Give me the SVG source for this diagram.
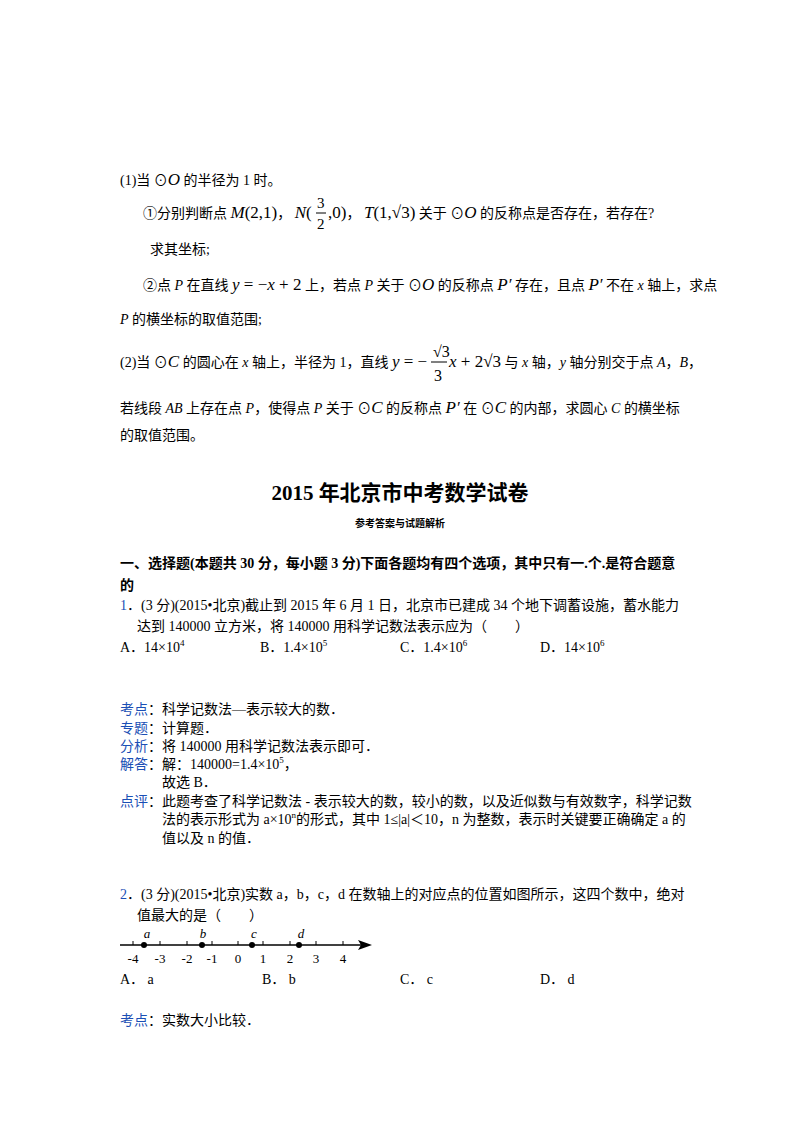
<svg xmlns="http://www.w3.org/2000/svg" width="800" height="1132" viewBox="0 0 800 1132" font-size="14">
<style>
text{font-family:"Liberation Serif","Noto Sans CJK SC",serif;fill:#000}
.i{font-style:italic}
.b{fill:#1a4fb5}
.h{font-weight:bold}
</style>
<rect width="800" height="1132" fill="#fff"/>
<text x="120" y="185">(1)当 ⊙<tspan class="i" font-size="17">O</tspan> 的半径为 1 时。</text>
<text x="143" y="218">①分别判断点 <tspan class="i" font-size="17">M</tspan><tspan font-size="17">(2,1)</tspan>， <tspan class="i" font-size="17">N</tspan><tspan font-size="17">(</tspan></text>
<text x="317" y="208" font-size="15">3</text><line x1="316" y1="213" x2="326" y2="213" stroke="#000"/><text x="317" y="229" font-size="15">2</text>
<text x="328" y="218"><tspan font-size="17">,0)</tspan>， <tspan class="i" font-size="17">T</tspan><tspan font-size="17">(1,√3)</tspan> 关于 ⊙<tspan class="i" font-size="17">O</tspan> 的反称点是否存在，若存在?</text>
<text x="150" y="254">求其坐标;</text>
<text x="143" y="290">②点 <tspan class="i">P</tspan> 在直线 <tspan class="i" font-size="17">y</tspan><tspan font-size="17"> = −</tspan><tspan class="i" font-size="17">x</tspan><tspan font-size="17"> + 2</tspan> 上，若点 <tspan class="i">P</tspan> 关于 ⊙<tspan class="i" font-size="17">O</tspan> 的反称点 <tspan class="i" font-size="17">P′</tspan> 存在，且点 <tspan class="i" font-size="17">P′</tspan> 不在 <tspan class="i">x</tspan> 轴上，求点</text>
<text x="120" y="324"><tspan class="i">P</tspan> 的横坐标的取值范围;</text>
<text x="120" y="367">(2)当 ⊙<tspan class="i" font-size="17">C</tspan> 的圆心在 <tspan class="i">x</tspan> 轴上，半径为 1，直线 <tspan class="i" font-size="17">y</tspan><tspan font-size="17"> = −</tspan></text>
<text x="433" y="357" font-size="16">√3</text><line x1="431" y1="362" x2="447" y2="362" stroke="#000"/><text x="434" y="381" font-size="16">3</text>
<text x="449" y="367"><tspan class="i" font-size="17">x</tspan><tspan font-size="17"> + 2√3</tspan> 与 <tspan class="i">x</tspan> 轴，<tspan class="i">y</tspan> 轴分别交于点 <tspan class="i">A</tspan>，<tspan class="i">B</tspan>，</text>
<text x="120" y="413">若线段 <tspan class="i">AB</tspan> 上存在点 <tspan class="i">P</tspan>，使得点 <tspan class="i">P</tspan> 关于 ⊙<tspan class="i" font-size="17">C</tspan> 的反称点 <tspan class="i" font-size="17">P′</tspan> 在 ⊙<tspan class="i" font-size="17">C</tspan> 的内部，求圆心 <tspan class="i">C</tspan> 的横坐标</text>
<text x="120" y="440">的取值范围。</text>

<text x="400" y="500" text-anchor="middle" class="h" font-size="21">2015 年北京市中考数学试卷</text>
<text x="400" y="527" text-anchor="middle" class="h" font-size="10">参考答案与试题解析</text>
<text x="120" y="568" class="h">一、选择题(本题共 30 分，每小题 3 分)下面各题均有四个选项，其中只有一.个.是符合题意</text>
<text x="120" y="590" class="h">的</text>

<text x="120" y="610"><tspan class="b">1</tspan>．(3 分)(2015•北京)截止到 2015 年 6 月 1 日，北京市已建成 34 个地下调蓄设施，蓄水能力</text>
<text x="137" y="631">达到 140000 立方米，将 140000 用科学记数法表示应为（　　）</text>
<text x="120" y="652">A．14×10<tspan font-size="9" dy="-6">4</tspan></text>
<text x="260" y="652">B．1.4×10<tspan font-size="9" dy="-6">5</tspan></text>
<text x="400" y="652">C．1.4×10<tspan font-size="9" dy="-6">6</tspan></text>
<text x="540" y="652">D．14×10<tspan font-size="9" dy="-6">6</tspan></text>

<text x="120" y="714"><tspan class="b">考点</tspan>：科学记数法—表示较大的数．</text>
<text x="120" y="733"><tspan class="b">专题</tspan>：计算题．</text>
<text x="120" y="751"><tspan class="b">分析</tspan>：将 140000 用科学记数法表示即可．</text>
<text x="120" y="769"><tspan class="b">解答</tspan>：解：140000=1.4×10<tspan font-size="9" dy="-6">5</tspan><tspan dy="6">，</tspan></text>
<text x="162" y="787">故选 B．</text>
<text x="120" y="806"><tspan class="b">点评</tspan>：此题考查了科学记数法 - 表示较大的数，较小的数，以及近似数与有效数字，科学记数</text>
<text x="162" y="824">法的表示形式为 a×10<tspan font-size="9" dy="-6">n</tspan><tspan dy="6">的形式，其中 1≤|a|＜10，n 为整数，表示时关键要正确确定 a 的</tspan></text>
<text x="162" y="843">值以及 n 的值．</text>

<text x="120" y="899"><tspan class="b">2</tspan>．(3 分)(2015•北京)实数 a，b，c，d 在数轴上的对应点的位置如图所示，这四个数中，绝对</text>
<text x="137" y="920">值最大的是（　　）</text>
<g id="numberline">
<line x1="120" y1="945" x2="362" y2="945" stroke="#000" stroke-width="1.5"/>
<polygon points="372,945 358,940 361,945 358,950" fill="#000"/>
<g stroke="#000" stroke-width="1">
<line x1="133" y1="941" x2="133" y2="945"/><line x1="160" y1="941" x2="160" y2="945"/><line x1="187" y1="941" x2="187" y2="945"/><line x1="212" y1="941" x2="212" y2="945"/><line x1="238" y1="941" x2="238" y2="945"/><line x1="263" y1="941" x2="263" y2="945"/><line x1="290" y1="941" x2="290" y2="945"/><line x1="316" y1="941" x2="316" y2="945"/><line x1="343" y1="941" x2="343" y2="945"/>
</g>
<circle cx="144" cy="945" r="3"/><circle cx="202" cy="945" r="3"/><circle cx="252" cy="945" r="3"/><circle cx="299" cy="945" r="3"/>
<g class="i" font-size="13" text-anchor="middle"><text x="147" y="938">a</text><text x="203" y="938">b</text><text x="254" y="938">c</text><text x="301" y="938">d</text></g>
<g font-size="13" text-anchor="middle"><text x="133" y="963">-4</text><text x="160" y="963">-3</text><text x="187" y="963">-2</text><text x="212" y="963">-1</text><text x="238" y="963">0</text><text x="263" y="963">1</text><text x="290" y="963">2</text><text x="316" y="963">3</text><text x="343" y="963">4</text></g>
</g>
<text x="120" y="984">A． a</text>
<text x="262" y="984">B． b</text>
<text x="400" y="984">C． c</text>
<text x="540" y="984">D． d</text>
<text x="120" y="1025"><tspan class="b">考点</tspan>：实数大小比较．</text>
</svg>
